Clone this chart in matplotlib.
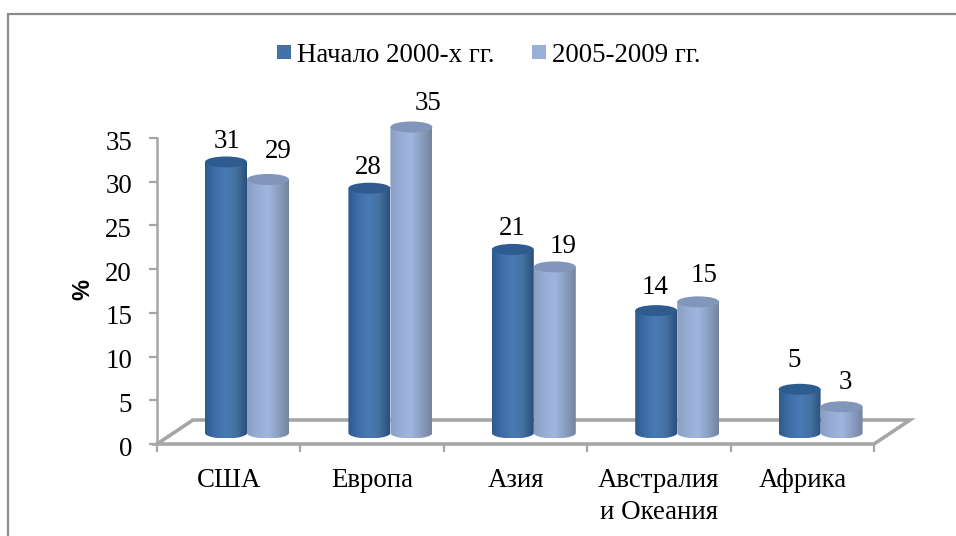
import matplotlib
matplotlib.use('Agg')
import numpy as np
import matplotlib.pyplot as plt
from matplotlib.colors import LinearSegmentedColormap
from matplotlib.patches import Ellipse, PathPatch, Polygon, Rectangle
from matplotlib.path import Path
from matplotlib.transforms import ScaledTranslation

categories = ['США', 'Европа', 'Азия', 'Австралия\nи Океания', 'Африка']
series_names = ['Начало 2000-х гг.', '2005-2009 гг.']
early = [31, 28, 21, 14, 5]
late = [29, 35, 19, 15, 3]
yticks = [0, 5, 10, 15, 20, 25, 30, 35]

W, H = 956, 536
plt.rcParams['font.family'] = ['Liberation Serif', 'DejaVu Serif']

dark_cmap = LinearSegmentedColormap.from_list('d', ['#2f5a90', '#3f6fa8', '#4a7ab5', '#44719f', '#2a4f7c'])
light_cmap = LinearSegmentedColormap.from_list('l', ['#8a9fc2', '#97add5', '#a0b6de', '#8c9fc2', '#75859f'])
gray = '#8c8c8c'
axis_gray = '#a6a6a6'
fs = 19.4

# label shifts from the bar top, in pixels (the labels sit unevenly in the original)
early_shift = [(1, 20), (-1, 21), (0, 21), (-1, 23), (-6, 29)]
late_shift = [(10, 28), (17, 24), (8, 20), (6, 26), (4, 24)]

fig = plt.figure(figsize=(W / 100, H / 100), dpi=100)
fig.patch.set_alpha(1)

# border of the chart area, in pixels
bg = fig.add_axes([0, 0, 1, 1], zorder=0)
bg.set_xlim(0, W)
bg.set_ylim(H, 0)
bg.axis('off')
bg.plot([8, 8, W], [H, 14, 14], color=gray, lw=1.6, solid_joinstyle='miter')

# main axes spans the front edge of the floor
ax = fig.add_axes([157 / W, 1 - 444 / H, (874 - 157) / W, (444 - 138) / H], zorder=1)
ax.patch.set_alpha(0)
ax.set_xlim(0, 5)
ax.set_ylim(0, 35)

px_x = 5 / (874 - 157)
px_y = 35 / (444 - 138)

for s in ['top', 'right', 'bottom']:
    ax.spines[s].set_visible(False)
ax.spines['left'].set_color(axis_gray)
ax.spines['left'].set_linewidth(1.8)
ax.set_yticks(yticks)
ax.set_xticks(range(6))
ax.set_xticklabels([])
ax.tick_params(axis='both', color=axis_gray, width=1.6, length=6)
ax.tick_params(axis='y', labelsize=fs, pad=12, labelcolor='black')
for lab in ax.get_yticklabels():
    lab.set_transform(lab.get_transform() + ScaledTranslation(0, -2 / 100, fig.dpi_scale_trans))

# floor of the 3d box
dx, dy = 36 * px_x, 24 * px_y
floor = Polygon([(0, 0), (dx, dy), (5 + dx, dy), (5, 0)], closed=True, fill=False,
                edgecolor=axis_gray, lw=2.6, clip_on=False, zorder=1, joinstyle='miter')
ax.add_patch(floor)


def cylinder(x0, x1, value, cmap, cap):
    base = 11 * px_y
    ry = 5.5 * px_y
    cx = (x0 + x1) / 2
    rx = (x1 - x0) / 2
    top = base + value
    t = np.linspace(np.pi, 2 * np.pi, 40)
    xs = np.r_[cx + rx * np.cos(t), x1, x0]
    ys = np.r_[base + ry * np.sin(t), top, top]
    clip = PathPatch(Path(np.c_[xs, ys]), transform=ax.transData, fc='none', ec='none')
    ax.add_patch(clip)
    clip.set_clip_on(False)
    im = ax.imshow(np.linspace(0, 1, 64)[None, :], cmap=cmap, aspect='auto',
                   extent=[x0, x1, base - ry, top], zorder=3)
    im.set_clip_box(fig.bbox)
    im.set_clip_path(clip)
    ax.add_patch(Ellipse((cx, top), x1 - x0, 2 * ry, fc=cap, ec='none', zorder=4, clip_on=False))
    return top


w = 42 * px_x
for i in range(len(categories)):
    x0 = i + 48 * px_x
    top1 = cylinder(x0, x0 + w, early[i], dark_cmap, '#2f5c90')
    top2 = cylinder(x0 + w, x0 + 2 * w, late[i], light_cmap, '#8295ba')
    ax.annotate(str(early[i]), (x0 + w * 0.5, top1), xytext=early_shift[i], textcoords='offset pixels',
                ha='center', va='center', fontsize=fs, zorder=5, annotation_clip=False)
    ax.annotate(str(late[i]), (x0 + w * 1.5, top2), xytext=late_shift[i], textcoords='offset pixels',
                ha='center', va='center', fontsize=fs, zorder=5, annotation_clip=False)
    ax.text(i + 0.5, -2.7, categories[i], ha='center', va='top', fontsize=fs, linespacing=1.4)

ax.set_xlim(0, 5)
ax.set_ylim(0, 35)

bg.text(83, 290, '%', rotation=90, ha='center', va='center', fontsize=17, fontweight='bold',
        family='Liberation Sans')

# legend
bg.add_patch(Rectangle((277, 45), 14, 14, fc='#4472a8', ec='none'))
bg.text(297, 56, series_names[0], ha='left', va='center', fontsize=fs)
bg.add_patch(Rectangle((532, 45), 14, 14, fc='#9bb0d8', ec='none'))
bg.text(552, 56, series_names[1], ha='left', va='center', fontsize=fs)

fig.savefig('out.png', dpi=100)
